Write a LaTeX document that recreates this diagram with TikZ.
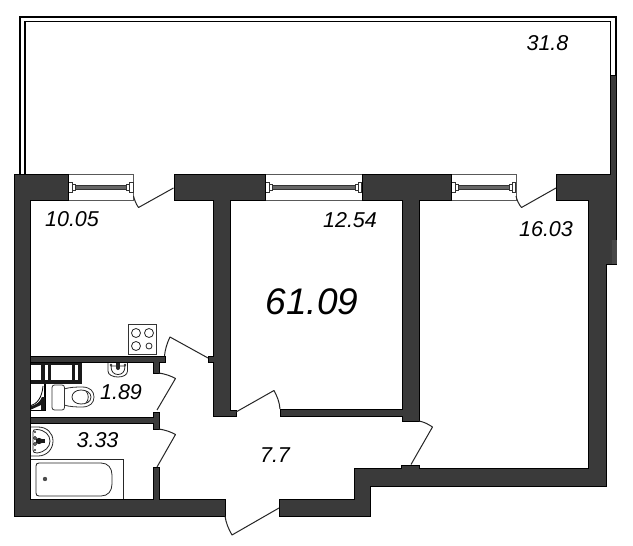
\documentclass[tikz,border=0pt]{standalone}
\usepackage{fontspec}
\setmainfont{Liberation Sans}
\definecolor{wallc}{HTML}{3A3A3A}
\tikzset{
  wallshape/.style={fill=wallc,draw=black,line width=1pt,line join=miter},
  balcony/.style={draw=black,line width=1.9pt},
  thinline/.style={draw=black!85,line width=0.8pt},
  doorleaf/.style={draw=black!85,line width=1pt,line join=round},
  fixture/.style={draw=black!80,line width=0.8pt,fill=white},
  areabig/.style={font=\fontsize{37}{40}\selectfont\itshape,inner sep=0pt},
  area/.style={font=\fontsize{21.5}{24}\selectfont\itshape,inner sep=0pt},
  blk/.style={fill=black!90,draw=none}
}
\newcommand{\winset}[2]{%
  \draw[thinline,draw=black!65,fill=white] (#1,174) rectangle (#2,200);
  \draw[fixture,fill=black!60,line width=1pt] (#1+7,185) rectangle (#2-7,189);
  \draw[fixture] (#1,182) rectangle (#1+4,192);
  \draw[fixture] (#1+4,184) rectangle (#1+7,190);
  \draw[fixture] (#2-4,182) rectangle (#2-0.5,192);
  \draw[fixture] (#2-7,184) rectangle (#2-4,190);
}
\begin{document}
\begin{tikzpicture}[x=1pt,y=-1pt]
\useasboundingbox[fill=white] (0,0) rectangle (633,546);
% balcony
\draw[balcony,line join=miter] (20,174) -- (20,17) -- (615.7,17) -- (615.7,75);
\draw[balcony,line join=miter] (24.7,174) -- (24.7,21.5) -- (610.5,21.5) -- (610.5,75);
% windows
\winset{68}{133.5}
\winset{265}{362}
\winset{451}{516}
% fixtures below walls
\draw[fixture] (128,324) rectangle (156,354);
\foreach \cx/\cy/\r in {136/333/4.5,149/333/4.5,136/346/4.5,149/346/3}
  \draw[thinline] (\cx,\cy) circle[radius=\r];
% bath
\draw[thinline] (31,459) -- (123,459) -- (123,499);
\draw[thinline] (39,463) -- (101,463) .. controls (108,463) and (112,468) .. (112,475)
  -- (112,484) .. controls (112,491) and (108,496) .. (101,496) -- (39,496)
  .. controls (37,496) and (36,495) .. (36,493) -- (36,466) .. controls (36,464) and (37,463) .. (39,463) -- cycle;
\fill[black!70] (45,479) circle[radius=2.2];
% washbasin in bathroom
\draw[thinline] (31,427) -- (38,427) .. controls (47,427) and (53,433) .. (53,441)
  .. controls (53,449) and (47,456) .. (38,456) -- (31,456);
\draw[thinline] (37,429.5) .. controls (45,430) and (50,435) .. (50,441)
  .. controls (50,447) and (45,452) .. (37,453) .. controls (34,453) and (33,452) .. (33,450)
  -- (33,432) .. controls (33,430) and (34,429.5) .. (37,429.5);
\fill[black!90] (39,441) circle[radius=3.2];
\fill[black!90] (36,439) rectangle (45,443);
\draw[thinline] (35,438) circle[radius=1.5];
\draw[thinline] (35,444) circle[radius=1.5];
\fill[black!80] (35,432) circle[radius=1.2];
\fill[black!80] (35,450) circle[radius=1.2];
% washbasin in wc
\draw[thinline] (108,362) -- (108,371) .. controls (108,375) and (113,377) .. (118,377)
  .. controls (123,377) and (127.5,375) .. (127.5,371) -- (127.5,362);
\draw[thinline] (111,366) .. controls (111,372) and (114,374.5) .. (118,374.5)
  .. controls (122,374.5) and (125,372) .. (125,366) -- cycle;
\fill[black!85] (116,362) rectangle (120,368);
\fill[black!85] (118,368) circle[radius=2];
\fill[black!80] (111,365) circle[radius=1.3];
\fill[black!80] (125,365) circle[radius=1.3];
% cabinets in wc
\fill[black!90] (30,362) rectangle (82,365);
\fill[black!90] (30,380) rectangle (82,383.5);
\fill[black!90] (41,362) rectangle (44.5,383);
\fill[black!90] (47.5,362) rectangle (51,383);
\fill[black!90] (71.5,362) rectangle (75,383);
\fill[black!90] (78.3,362) rectangle (82,383);
% shower corner
\draw[draw=black,line width=1.2pt] (45,384) -- (45,410.5) -- (30,410.5);
\draw[draw=black,line width=0.8pt] (30,406) .. controls (37,404) and (42,398) .. (43,386);
\fill[black!90] (30,410) -- (30,406.5) .. controls (36,405) and (40,402) .. (42,397) -- (45,397) -- (45,410) -- (41,410) -- (41,405) -- cycle;
% toilet
\draw[fixture] (64,389) .. controls (70,387) and (78,387) .. (82,387)
  .. controls (90,387) and (94,391) .. (94,397)
  .. controls (94,403) and (90,407) .. (82,407)
  .. controls (78,407) and (70,407) .. (64,405) -- cycle;
\draw[thinline] (81,390) .. controls (86,390) and (91,392.5) .. (91,397)
  .. controls (91,402) and (86,404) .. (81,404)
  .. controls (76,404) and (72,401) .. (72,397)
  .. controls (72,393) and (76,390) .. (81,390) -- cycle;
\draw[thinline] (86,391) .. controls (89,394) and (89,400) .. (86,403);
\draw[fixture,rounded corners=2.5pt] (52,385) rectangle (64.5,410);
% walls
\draw[wallshape] (14,174) -- (68,174) -- (68,200) -- (30.5,200) -- (30.5,499) -- (153,499)
  -- (153,467) -- (159,467) -- (159,499) -- (225,499) -- (225,516) -- (14,516) -- cycle;
\draw[wallshape] (279,499) -- (354,499) -- (354,468) -- (401,468) -- (401,465) -- (419,465)
  -- (419,468) -- (588,468) -- (588,200) -- (556,200) -- (556,174) -- (610.5,174) -- (610.5,75)
  -- (616,75) -- (616,264) -- (606,264) -- (606,486) -- (370,486) -- (370,516) -- (279,516) -- cycle;
\fill[black!72] (612,240) rectangle (616.5,263.5);
\draw[wallshape] (174,174) -- (265,174) -- (265,200) -- (230.5,200) -- (230.5,410) -- (236,410)
  -- (236,416) -- (213,416) -- (213,362) -- (208,362) -- (208,356) -- (213,356) -- (213,200)
  -- (174,200) -- cycle;
\draw[wallshape] (362,174) -- (451,174) -- (451,200) -- (419,200) -- (419,421) -- (402,421)
  -- (402,416) -- (280,416) -- (280,409) -- (402,409) -- (402,200) -- (362,200) -- cycle;
\draw[wallshape] (30.5,356) -- (165,356) -- (165,362) -- (159,362) -- (159,373) -- (153,373)
  -- (153,362) -- (30.5,362) -- cycle;
\draw[wallshape] (30.5,417) -- (153,417) -- (153,412) -- (159,412) -- (159,429) -- (153,429)
  -- (153,423) -- (30.5,423) -- cycle;
% doors
\draw[doorleaf] (133.5,196) .. controls (134.5,200) and (136,204) .. (138.5,207.5) -- (173.5,188);
\draw[doorleaf] (516,196) .. controls (517,200) and (518.5,204) .. (521.5,207.5) -- (556,188);
\draw[doorleaf] (208,358) -- (170,337) .. controls (167,343) and (165,350) .. (164.5,356);
\draw[doorleaf] (159,373) .. controls (165,374) and (170,375.5) .. (175.5,378.5) -- (157,410);
\draw[doorleaf] (159,429) .. controls (165,430) and (170,431.5) .. (175.5,434.5) -- (157,467);
\draw[doorleaf] (236,412) -- (274,390.5) .. controls (277,396) and (279.5,402) .. (280,409);
\draw[doorleaf] (419,421) .. controls (424,422) and (428,424) .. (432.5,427) -- (411,464.5);
\draw[doorleaf] (225,516) .. controls (226,523) and (228.5,529) .. (232,535) -- (279,508);
% labels
\node[area] (a318) at (547.5,43) {31.8};
\node[area] (a1005) at (72,219) {10.05};
\node[area] (a1254) at (350,220) {12.54};
\node[area] (a1603) at (546,229) {16.03};
\node[areabig] (a6109) at (312,302) {61.09};
\node[area] (a189) at (121,392) {1.89};
\node[area] (a333) at (97.5,440) {3.33};
\node[area] (a77) at (275,455) {7.7};
\end{tikzpicture}
\end{document}
